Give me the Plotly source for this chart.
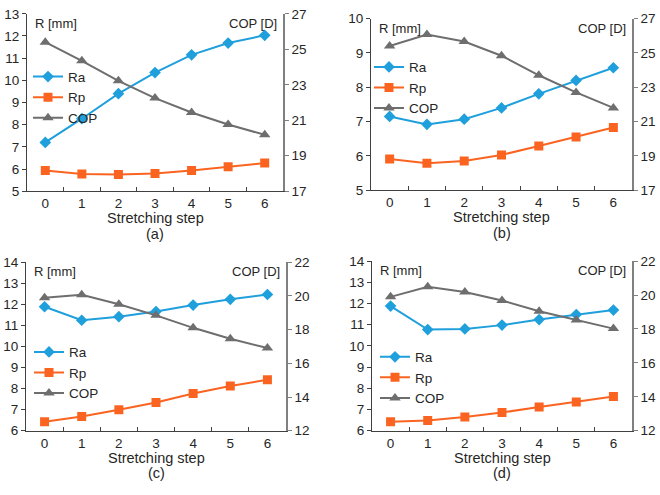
import plotly.graph_objects as go

W, H = 660, 495

steps = ["0", "1", "2", "3", "4", "5", "6"]

# panel (a)
ra_a = [7.2, 8.27, 9.4, 10.35, 11.15, 11.68, 12.03]
rp_a = [5.93, 5.78, 5.75, 5.8, 5.93, 6.1, 6.27]
cop_a = [25.4, 24.35, 23.22, 22.25, 21.44, 20.76, 20.18]

# panel (b)
ra_b = [7.15, 6.92, 7.07, 7.4, 7.81, 8.2, 8.57]
rp_b = [5.91, 5.79, 5.85, 6.03, 6.29, 6.55, 6.83]
cop_b = [25.41, 26.08, 25.67, 24.84, 23.7, 22.7, 21.8]

# panel (c)
ra_c = [11.88, 11.24, 11.41, 11.65, 11.96, 12.23, 12.46]
rp_c = [6.43, 6.68, 7.0, 7.34, 7.77, 8.12, 8.42]
cop_c = [19.89, 20.06, 19.5, 18.84, 18.1, 17.45, 16.9]

# panel (d)
ra_d = [11.88, 10.77, 10.8, 10.98, 11.24, 11.48, 11.69]
rp_d = [6.42, 6.48, 6.65, 6.86, 7.12, 7.36, 7.61]
cop_d = [19.89, 20.48, 20.18, 19.68, 19.04, 18.53, 18.02]

panel_labels = ["(a)", "(b)", "(c)", "(d)"]
left_ranges = [(5, 13, 1), (5, 10, 1), (6, 14, 1), (6, 14, 1)]
right_ranges = [(17, 27, 2), (17, 27, 2), (12, 22, 2), (12, 22, 2)]

# pixel boxes: x0, x1, ytop, ybottom
boxes = [(27, 283, 7, 190), (371, 632, 12, 189), (26, 286, 263, 437), (372, 632, 262, 437)]
# legend top-left in pixels
legend_pos = [(28, 56), (369, 46), (29, 340), (375, 345)]

data = [(ra_a, rp_a, cop_a), (ra_b, rp_b, cop_b), (ra_c, rp_c, cop_c), (ra_d, rp_d, cop_d)]

C_RA = "#1f9fdc"
C_RP = "#fa6420"
C_COP = "#6e6e6e"
FONT = "Liberation Sans, Arial, sans-serif"
TXT = "#262626"

fig = go.Figure()
layout = {}
annotations = []

for i in range(4):
    n = i + 1
    x0, x1, yt, yb = boxes[i]
    xid = "x" if n == 1 else f"x{n}"
    yl = 2 * n - 1
    yr = 2 * n
    ylid = "y" if yl == 1 else f"y{yl}"
    yrid = f"y{yr}"
    leg = "legend" if n == 1 else f"legend{n}"
    ra, rp, cop = data[i]

    fig.add_trace(go.Scatter(x=steps, y=ra, name="Ra", mode="lines+markers",
                             line=dict(color=C_RA, width=2),
                             marker=dict(symbol="diamond", size=9, color=C_RA),
                             xaxis=xid, yaxis=ylid, legend=leg))
    fig.add_trace(go.Scatter(x=steps, y=rp, name="Rp", mode="lines+markers",
                             line=dict(color=C_RP, width=2),
                             marker=dict(symbol="square", size=9, color=C_RP),
                             xaxis=xid, yaxis=ylid, legend=leg))
    fig.add_trace(go.Scatter(x=steps, y=cop, name="COP", mode="lines+markers",
                             line=dict(color=C_COP, width=2),
                             marker=dict(symbol="triangle-up", size=10, color=C_COP),
                             xaxis=xid, yaxis=yrid, legend=leg))

    xname = "xaxis" if n == 1 else f"xaxis{n}"
    layout[xname] = dict(
        domain=[x0 / W, x1 / W], anchor=ylid, type="category",
        range=[-0.5, 6.5], tickson="boundaries", ticks="inside", ticklen=4,
        tickcolor="#404040", showline=True, linecolor="#404040", linewidth=1,
        showgrid=False, zeroline=False,
        tickfont=dict(size=13.5, color=TXT, family=FONT),
    )
    lo, hi, dt = left_ranges[i]
    layout["yaxis" if yl == 1 else f"yaxis{yl}"] = dict(
        domain=[1 - yb / H, 1 - yt / H], anchor=xid, range=[lo, hi], dtick=dt,
        tick0=lo, ticks="outside", ticklen=4, tickcolor="#404040",
        showline=True, linecolor="#404040", linewidth=1,
        showgrid=False, zeroline=False,
        tickfont=dict(size=13.5, color=TXT, family=FONT),
    )
    lo, hi, dt = right_ranges[i]
    layout[f"yaxis{yr}"] = dict(
        overlaying=ylid, anchor=xid, side="right", range=[lo, hi], dtick=dt,
        tick0=lo, ticks="outside", ticklen=4, tickcolor="#808080",
        showline=True, linecolor="#808080", linewidth=1.5,
        showgrid=False, zeroline=False,
        tickfont=dict(size=13.5, color=TXT, family=FONT),
    )
    lx, ly = legend_pos[i]
    layout[leg] = dict(
        x=lx / W, y=1 - ly / H, xanchor="left", yanchor="top",
        bgcolor="rgba(0,0,0,0)", tracegroupgap=0, itemwidth=30,
        font=dict(size=13.5, color=TXT, family=FONT),
    )

    annotations += [
        dict(text="R [mm]", x=(x0 + 6) / W, y=1 - (yt + 10) / H, xref="paper", yref="paper",
             xanchor="left", yanchor="middle", showarrow=False,
             font=dict(size=13, color=TXT, family=FONT)),
        dict(text="COP [D]", x=(x1 - 4) / W, y=1 - (yt + 10) / H, xref="paper", yref="paper",
             xanchor="right", yanchor="middle", showarrow=False,
             font=dict(size=13, color=TXT, family=FONT)),
        dict(text="Stretching step", x=(x0 + x1) / 2 / W, y=1 - (yb + 28) / H,
             xref="paper", yref="paper", xanchor="center", yanchor="middle", showarrow=False,
             font=dict(size=14.5, color=TXT, family=FONT)),
        dict(text=panel_labels[i], x=(x0 + x1) / 2 / W, y=1 - (yb + 44) / H,
             xref="paper", yref="paper", xanchor="center", yanchor="middle", showarrow=False,
             font=dict(size=14.5, color=TXT, family=FONT)),
    ]

fig.update_layout(
    width=W, height=H,
    margin=dict(l=0, r=0, t=0, b=0),
    paper_bgcolor="white", plot_bgcolor="white",
    showlegend=True,
    annotations=annotations,
    font=dict(family=FONT, color=TXT),
    **layout,
)

# drop the default page margin so the 660x495 figure fills the window exactly
fig.write_html("out.html", config={"displayModeBar": False},
               post_script="document.body.style.margin='0';document.body.style.overflow='hidden';")
